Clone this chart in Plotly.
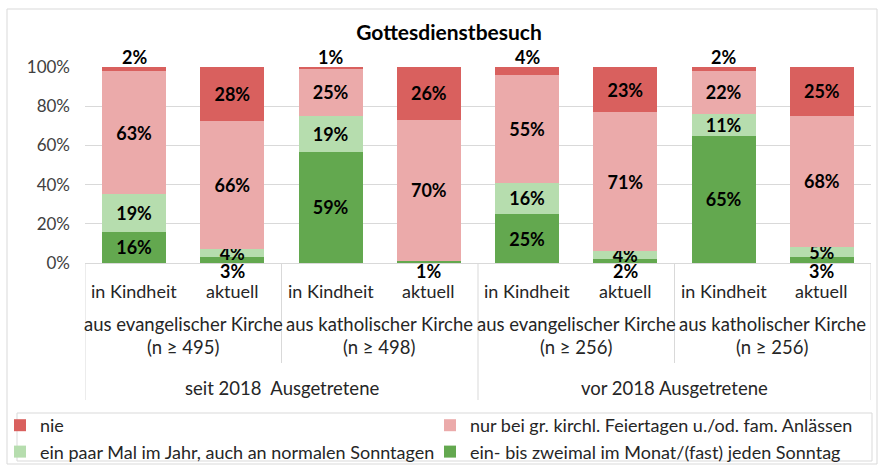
import plotly.graph_objects as go

# ---------------- data ----------------
series_names = [
    "ein- bis zweimal im Monat/(fast) jeden Sonntag",
    "ein paar Mal im Jahr, auch an normalen Sonntagen",
    "nur bei gr. kirchl. Feiertagen u./od. fam. Anlässen",
    "nie",
]
series_colors = ["#63a84f", "#b6ddae", "#ebaaaa", "#d9605e"]
series_legend = ["legend2", "legend", "legend2", "legend"]

time_labels = ["in Kindheit", "aktuell"] * 4
church_labels = ["aus evangelischer Kirche", "aus katholischer Kirche",
                 "aus evangelischer Kirche", "aus katholischer Kirche"]
church_n = ["(n ≥ 495)", "(n ≥ 498)", "(n ≥ 256)", "(n ≥ 256)"]
group_labels = ["seit 2018\u00a0 Ausgetretene", "vor 2018 Ausgetretene"]

monthly = [16, 3, 59, 1, 25, 2, 65, 3]
yearly = [19, 4, 19, 0, 16, 4, 11, 5]
holidays = [63, 66, 25, 70, 55, 71, 22, 68]
never = [2, 28, 1, 26, 4, 23, 2, 25]

y_ticks = [0, 20, 40, 60, 80, 100]

values = [monthly, yearly, holidays, never]
xpos = list(range(len(time_labels)))

FONT = "Lato, 'Open Sans', sans-serif"
TXT = "#262626"

# plot area geometry (px)
L, R, T, B = 85, 10, 67, 203
W, H = 881, 466
PW, PH = W - L - R, H - T - B


def py(ypx):  # pixel y -> paper y
    return (H - B - ypx) / PH


def px(xpx):  # pixel x -> paper x
    return (xpx - L) / PW


fig = go.Figure()
annotations = []

for k, (name, col, vals, lg) in enumerate(zip(series_names, series_colors, values, series_legend)):
    texts = []
    for i, v in enumerate(vals):
        outside = (k in (0, 3)) and v < 5
        if v == 0 or outside:
            texts.append("")
        else:
            texts.append(f"{v}%")
        if outside and v > 0:
            if k == 3:
                annotations.append(dict(x=i, y=100, xref="x", yref="y", text=f"<b>{v}%</b>",
                                        showarrow=False, yanchor="bottom", yshift=-3,
                                        font=dict(family=FONT, size=18, color="black")))
            else:
                annotations.append(dict(x=i, y=0, xref="x", yref="y", text=f"<b>{v}%</b>",
                                        showarrow=False, yanchor="top", yshift=5,
                                        font=dict(family=FONT, size=18, color="black")))
    fig.add_trace(go.Bar(
        x=xpos, y=vals, name=name, legend=lg, marker=dict(color=col, line=dict(width=0)),
        width=0.65, text=texts, textposition="inside", insidetextanchor="middle",
        constraintext="none", textangle=0,
        textfont=dict(family=FONT, size=18, color="black", weight="bold"),
        hoverinfo="skip",
    ))

# category axis labels
for i, t in enumerate(time_labels):
    annotations.append(dict(x=i, y=py(291), xref="x", yref="paper", text=t, showarrow=False,
                            yanchor="middle", font=dict(family=FONT, size=18, color=TXT)))
for j, (c, n) in enumerate(zip(church_labels, church_n)):
    annotations.append(dict(x=2 * j + 0.5, y=py(324), xref="x", yref="paper", text=c,
                            showarrow=False, yanchor="middle",
                            font=dict(family=FONT, size=18.5, color=TXT)))
    annotations.append(dict(x=2 * j + 0.5, y=py(347), xref="x", yref="paper", text=n,
                            showarrow=False, yanchor="middle",
                            font=dict(family=FONT, size=18.5, color=TXT)))
for g, lab in enumerate(group_labels):
    annotations.append(dict(x=4 * g + 1.5, y=py(388), xref="x", yref="paper", text=lab,
                            showarrow=False, yanchor="middle",
                            font=dict(family=FONT, size=18.5, color=TXT)))

shapes = []
# divider lines in the category axis area
for xb in [-0.5, 1.5, 3.5, 5.5, 7.5]:
    long = xb in (-0.5, 3.5, 7.5)
    shapes.append(dict(type="line", xref="x", yref="paper", x0=xb, x1=xb, y0=0,
                       y1=py(400) if long else py(363), line=dict(color="#d9d9d9", width=1)))
# legend box
shapes.append(dict(type="rect", xref="paper", yref="paper", x0=px(17), x1=px(872),
                   y0=py(461), y1=py(413), line=dict(color="#d9d9d9", width=1),
                   fillcolor="rgba(0,0,0,0)", layer="below"))
# outer chart border
shapes.append(dict(type="rect", xref="paper", yref="paper", x0=px(7), x1=px(877),
                   y0=py(464), y1=py(9), line=dict(color="#d9d9d9", width=1),
                   fillcolor="rgba(0,0,0,0)", layer="below"))

legend_common = dict(orientation="v", traceorder="reversed", xref="container", yref="container",
                     yanchor="top", xanchor="left", bgcolor="rgba(0,0,0,0)", borderwidth=0,
                     itemwidth=30, tracegroupgap=0,
                     font=dict(family=FONT, size=18, color=TXT))

fig.update_layout(
    width=W, height=H,
    margin=dict(l=L, r=R, t=T, b=B, autoexpand=False),
    barmode="stack", barnorm="percent", bargap=0.35,
    plot_bgcolor="white", paper_bgcolor="white",
    font=dict(family=FONT, color=TXT),
    title=dict(text="<b>Gottesdienstbesuch</b>", x=449 / W, xanchor="center",
               y=1 - 33 / H, yanchor="middle", xref="container", yref="container",
               font=dict(family=FONT, size=21, color="black")),
    xaxis=dict(range=[-0.5, 7.5], showticklabels=False, showgrid=False, zeroline=False,
               showline=True, linecolor="#d9d9d9", linewidth=1, fixedrange=True),
    yaxis=dict(range=[0, 100], tickvals=y_ticks, ticktext=[f"{v}%" for v in y_ticks],
               showgrid=True, gridcolor="#d9d9d9", gridwidth=1, zeroline=False,
               showline=False, ticklabelstandoff=14,
               tickfont=dict(family=FONT, size=17, color="#404040")),
    legend=dict(x=0.0, y=1 - 407 / H, **legend_common),
    legend2=dict(x=430 / W, y=1 - 407 / H, **legend_common),
    annotations=annotations,
    shapes=shapes,
    showlegend=True,
)

fig.write_html("out.html", config={"displayModeBar": False},
               post_script="document.body.style.margin='0';document.body.style.overflow='hidden';")
